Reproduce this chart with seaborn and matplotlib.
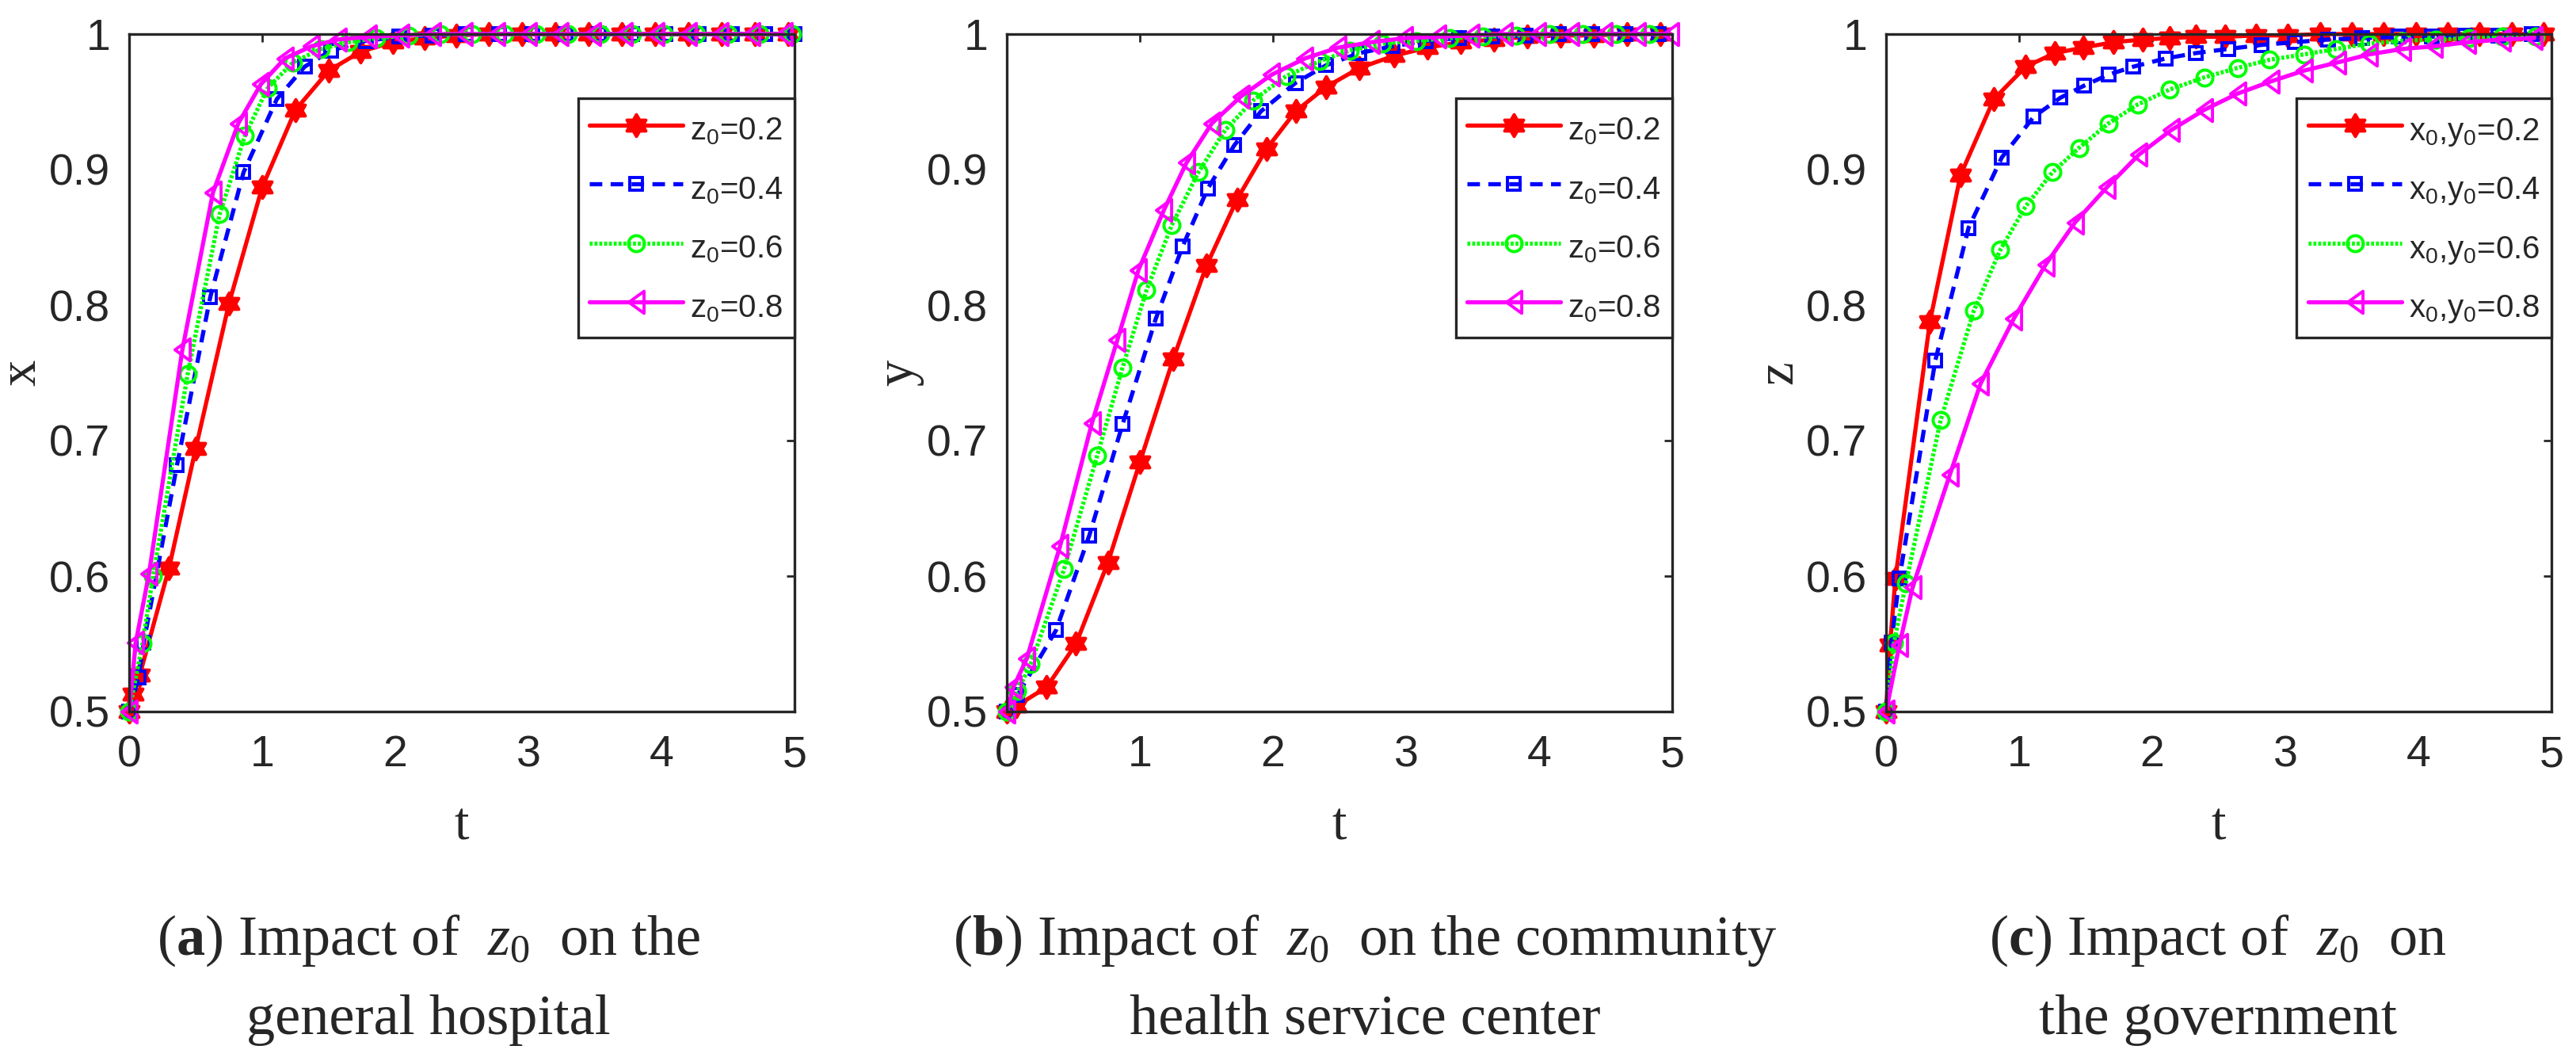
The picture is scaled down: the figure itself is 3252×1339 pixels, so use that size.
import matplotlib
matplotlib.use('Agg')
import matplotlib.pyplot as plt
from matplotlib.path import Path
import seaborn as sns

# ---------------- data ----------------
T_TICKS = [0, 1, 2, 3, 4, 5]
X_TICK_LABELS = ['0', '1', '2', '3', '4', '5']
Y_TICKS = [0.5, 0.6, 0.7, 0.8, 0.9, 1.0]
Y_TICK_LABELS = ['0.5', '0.6', '0.7', '0.8', '0.9', '1']

# panel (a): x, general hospital, z0 = 0.2 / 0.4 / 0.6 / 0.8
A_T_02 = [0, 0.03, 0.08, 0.30, 0.50, 0.75, 1.00, 1.25, 1.50, 1.74, 1.98, 2.22, 2.46, 2.70, 2.95, 3.20, 3.45, 3.70, 3.95, 4.20, 4.45, 4.70, 4.95]
A_X_02 = [0.500, 0.513, 0.527, 0.606, 0.694, 0.801, 0.887, 0.944, 0.973, 0.987, 0.994, 0.997, 0.999, 1.000, 1.000, 1.000, 1.000, 1.000, 1.000, 1.000, 1.000, 1.000, 1.000]
A_T_04 = [0, 0.07, 0.11, 0.36, 0.61, 0.86, 1.11, 1.32, 1.52, 1.78, 2.03, 2.28, 2.53, 2.78, 3.03, 3.28, 3.53, 3.78, 4.03, 4.28, 4.53, 4.78, 5.00]
A_X_04 = [0.500, 0.525, 0.551, 0.682, 0.806, 0.898, 0.952, 0.976, 0.988, 0.995, 0.998, 0.999, 1.000, 1.000, 1.000, 1.000, 1.000, 1.000, 1.000, 1.000, 1.000, 1.000, 1.000]
A_T_06 = [0, 0.10, 0.18, 0.44, 0.68, 0.87, 1.04, 1.23, 1.44, 1.65, 1.86, 2.10, 2.34, 2.58, 2.82, 3.06, 3.30, 3.54, 3.78, 4.02, 4.26, 4.50, 4.74, 4.98]
A_X_06 = [0.500, 0.550, 0.600, 0.749, 0.867, 0.925, 0.960, 0.979, 0.989, 0.994, 0.997, 0.999, 1.000, 1.000, 1.000, 1.000, 1.000, 1.000, 1.000, 1.000, 1.000, 1.000, 1.000, 1.000]
A_T_08 = [0, 0.05, 0.15, 0.40, 0.63, 0.82, 0.99, 1.17, 1.37, 1.57, 1.80, 2.04, 2.28, 2.52, 2.76, 3.00, 3.24, 3.48, 3.72, 3.96, 4.20, 4.44, 4.68, 4.92]
A_X_08 = [0.500, 0.551, 0.602, 0.767, 0.883, 0.934, 0.963, 0.982, 0.991, 0.996, 0.998, 0.999, 1.000, 1.000, 1.000, 1.000, 1.000, 1.000, 1.000, 1.000, 1.000, 1.000, 1.000, 1.000]

# panel (b): y, community health service center
B_T_02 = [0, 0.07, 0.30, 0.52, 0.76, 1.00, 1.25, 1.50, 1.73, 1.95, 2.17, 2.40, 2.65, 2.91, 3.16, 3.41, 3.66, 3.91, 4.16, 4.41, 4.66, 4.91]
B_Y_02 = [0.500, 0.504, 0.518, 0.550, 0.610, 0.684, 0.760, 0.829, 0.878, 0.915, 0.943, 0.961, 0.975, 0.984, 0.990, 0.994, 0.996, 0.998, 0.999, 0.999, 1.000, 1.000]
B_T_04 = [0, 0.08, 0.37, 0.62, 0.87, 1.12, 1.32, 1.51, 1.71, 1.91, 2.17, 2.40, 2.65, 2.90, 3.15, 3.40, 3.65, 3.90, 4.15, 4.40, 4.65, 4.90]
B_Y_04 = [0.500, 0.512, 0.560, 0.630, 0.712, 0.790, 0.843, 0.886, 0.918, 0.943, 0.964, 0.977, 0.986, 0.991, 0.995, 0.997, 0.998, 0.999, 1.000, 1.000, 1.000, 1.000]
B_T_06 = [0, 0.08, 0.18, 0.43, 0.68, 0.87, 1.05, 1.24, 1.44, 1.64, 1.85, 2.10, 2.35, 2.58, 2.82, 3.08, 3.33, 3.58, 3.83, 4.08, 4.33, 4.58, 4.83]
B_Y_06 = [0.500, 0.515, 0.535, 0.605, 0.689, 0.754, 0.811, 0.859, 0.898, 0.929, 0.951, 0.969, 0.980, 0.988, 0.993, 0.995, 0.997, 0.998, 0.999, 1.000, 1.000, 1.000, 1.000]
B_T_08 = [0, 0.05, 0.15, 0.40, 0.64, 0.83, 0.99, 1.18, 1.35, 1.54, 1.76, 1.99, 2.24, 2.49, 2.74, 2.99, 3.24, 3.49, 3.74, 3.99, 4.24, 4.49, 4.74, 4.99]
B_Y_08 = [0.500, 0.518, 0.539, 0.622, 0.713, 0.774, 0.826, 0.870, 0.905, 0.934, 0.954, 0.970, 0.982, 0.990, 0.994, 0.997, 0.998, 0.999, 1.000, 1.000, 1.000, 1.000, 1.000, 1.000]

# panel (c): z, government, x0,y0 = 0.2 / 0.4 / 0.6 / 0.8
C_T_02 = [0, 0.03, 0.07, 0.33, 0.56, 0.81, 1.05, 1.27, 1.48, 1.71, 1.93, 2.13, 2.33, 2.55, 2.78, 3.02, 3.26, 3.50, 3.74, 3.98, 4.22, 4.46, 4.70, 4.94]
C_Z_02 = [0.500, 0.549, 0.598, 0.788, 0.896, 0.952, 0.976, 0.986, 0.990, 0.994, 0.996, 0.997, 0.998, 0.998, 0.999, 0.999, 1.000, 1.000, 1.000, 1.000, 1.000, 1.000, 1.000, 1.000]
C_T_04 = [0, 0.04, 0.10, 0.37, 0.62, 0.87, 1.11, 1.31, 1.49, 1.67, 1.86, 2.10, 2.33, 2.57, 2.82, 3.07, 3.32, 3.58, 3.85, 4.10, 4.35, 4.60, 4.85]
C_Z_04 = [0.500, 0.551, 0.598, 0.759, 0.857, 0.909, 0.939, 0.953, 0.962, 0.970, 0.976, 0.982, 0.986, 0.989, 0.992, 0.994, 0.996, 0.997, 0.998, 0.998, 0.999, 0.999, 1.000]
C_T_06 = [0, 0.06, 0.15, 0.41, 0.66, 0.86, 1.05, 1.25, 1.45, 1.67, 1.89, 2.13, 2.39, 2.64, 2.88, 3.14, 3.38, 3.63, 3.88, 4.13, 4.38, 4.63, 4.88]
C_Z_06 = [0.500, 0.551, 0.595, 0.715, 0.796, 0.841, 0.873, 0.898, 0.916, 0.934, 0.948, 0.959, 0.968, 0.975, 0.981, 0.985, 0.989, 0.993, 0.995, 0.996, 0.997, 0.998, 0.998]
C_T_08 = [0, 0.10, 0.20, 0.48, 0.71, 0.96, 1.20, 1.42, 1.66, 1.90, 2.14, 2.39, 2.64, 2.89, 3.14, 3.39, 3.63, 3.88, 4.12, 4.37, 4.63, 4.87]
C_Z_08 = [0.500, 0.549, 0.592, 0.675, 0.742, 0.790, 0.830, 0.861, 0.887, 0.911, 0.929, 0.944, 0.956, 0.965, 0.973, 0.979, 0.985, 0.989, 0.991, 0.994, 0.996, 0.997]

Y_LABELS = ['x', 'y', 'z']
X_LABEL = 't'
LEGEND_Z0 = [r'$\mathsf{z_0}$=0.2', r'$\mathsf{z_0}$=0.4', r'$\mathsf{z_0}$=0.6', r'$\mathsf{z_0}$=0.8']
LEGEND_XY0 = [r'$\mathsf{x_0}$,$\mathsf{y_0}$=0.2', r'$\mathsf{x_0}$,$\mathsf{y_0}$=0.4',
              r'$\mathsf{x_0}$,$\mathsf{y_0}$=0.6', r'$\mathsf{x_0}$,$\mathsf{y_0}$=0.8']
CAPTION_LINE1 = [r'($\mathbf{a}$) Impact of  $z_0$  on the',
                 r'($\mathbf{b}$) Impact of  $z_0$  on the community',
                 r'($\mathbf{c}$) Impact of  $z_0$  on']
CAPTION_LINE2 = ['general hospital', 'health service center', 'the government']

PANELS = [
    ([A_T_02, A_T_04, A_T_06, A_T_08], [A_X_02, A_X_04, A_X_06, A_X_08], LEGEND_Z0),
    ([B_T_02, B_T_04, B_T_06, B_T_08], [B_Y_02, B_Y_04, B_Y_06, B_Y_08], LEGEND_Z0),
    ([C_T_02, C_T_04, C_T_06, C_T_08], [C_Z_02, C_Z_04, C_Z_06, C_Z_08], LEGEND_XY0),
]

# ---------------- style ----------------
sns.set_style('white')
plt.rcParams.update({
    'font.family': ['Liberation Sans', 'DejaVu Sans'],
    'mathtext.fontset': 'custom',
    'mathtext.rm': 'Liberation Serif',
    'mathtext.it': 'Liberation Serif:italic',
    'mathtext.bf': 'Liberation Serif:bold',
    'mathtext.sf': 'Liberation Sans',
    'axes.edgecolor': '#262626',
    'axes.linewidth': 2.4,
})

# MATLAB-like marker shapes: six-pointed star (points up/down) and a narrow left triangle
HEXAGRAM = Path.unit_regular_star(6, 0.57735)
LEFT_TRIANGLE = Path([(-0.69, 0.0), (0.69, 1.0), (0.69, -1.0), (-0.69, 0.0)],
                     [Path.MOVETO, Path.LINETO, Path.LINETO, Path.CLOSEPOLY])
STYLES = [
    dict(color='#FF0000', linestyle='-', marker=HEXAGRAM, markersize=20, markerfacecolor='#FF0000'),
    dict(color='#0000FF', linestyle=(0, (3.0, 2.0)), marker='s', markersize=11.5, markerfacecolor='none'),
    dict(color='#00FF00', linestyle=(0, (0.7, 0.45)), marker='o', markersize=14.5, markerfacecolor='none'),
    dict(color='#FF00FF', linestyle='-', marker=LEFT_TRIANGLE, markersize=20, markerfacecolor='none'),
]

W, H = 3252, 1339
fig = plt.figure(figsize=(W / 100, H / 100), dpi=100)
fig.patch.set_facecolor('white')

AX_LEFTS_PX = [163, 1271, 2381]
AX_W_PX, AX_TOP_PX, AX_BOTTOM_PX = 840, 43, 898
CAPTION_X_PX = [541, 1723, 2800]

for i, (ts, vs, labels) in enumerate(PANELS):
    ax = fig.add_axes([AX_LEFTS_PX[i] / W, (H - AX_BOTTOM_PX) / H,
                       AX_W_PX / W, (AX_BOTTOM_PX - AX_TOP_PX) / H])
    for t, v, st in zip(ts, vs, STYLES):
        sns.lineplot(x=t, y=v, ax=ax, color=st['color'], linestyle=st['linestyle'],
                     linewidth=3.8, marker=st['marker'], markersize=st['markersize'],
                     markerfacecolor=st['markerfacecolor'], markeredgecolor=st['color'],
                     markeredgewidth=2.8, estimator=None, sort=False, errorbar=None,
                     legend=False, clip_on=False)
    ax.set_xlim(0, 5)
    ax.set_ylim(0.5, 1.0)
    ax.set_xticks(T_TICKS)
    ax.set_xticklabels(X_TICK_LABELS)
    ax.set_yticks(Y_TICKS)
    ax.set_yticklabels(Y_TICK_LABELS)
    ax.tick_params(direction='in', length=7.2, width=2, top=True, right=True,
                   labelsize=40, colors='#262626')
    ax.tick_params(axis='x', pad=21)
    ax.tick_params(axis='y', pad=17)
    for sp in ax.spines.values():
        sp.set_visible(True)
        sp.set_color('#262626')
        sp.set_linewidth(2.4)
    ax.set_ylabel(Y_LABELS[i], fontfamily='Liberation Serif', fontsize=48,
                  color='#262626', va='center')
    ax.yaxis.set_label_coords(-135 / AX_W_PX, 0.5)
    ax.set_xlabel(X_LABEL, fontfamily='Liberation Serif', fontsize=48,
                  color='#262626', va='baseline')
    ax.xaxis.set_label_coords(0.5, -162 / (AX_BOTTOM_PX - AX_TOP_PX))
    leg = ax.legend(handles=ax.lines[:4], labels=labels, loc='upper right',
                    bbox_to_anchor=(1.0, 0.905), borderaxespad=0, fontsize=29,
                    handlelength=2.93, handleheight=1.5, handletextpad=0.22,
                    labelspacing=0.63, borderpad=0.36, numpoints=1, frameon=True,
                    fancybox=False, framealpha=1, edgecolor='#262626')
    leg.get_frame().set_linewidth(2.4)

    fig.text(CAPTION_X_PX[i] / W, (H - 1205) / H, CAPTION_LINE1[i], ha='center',
             va='baseline', fontsize=52, family='Liberation Serif')
    fig.text(CAPTION_X_PX[i] / W, (H - 1305) / H, CAPTION_LINE2[i], ha='center',
             va='baseline', fontsize=52, family='Liberation Serif')

fig.savefig('out.png', dpi=100, facecolor='white')
